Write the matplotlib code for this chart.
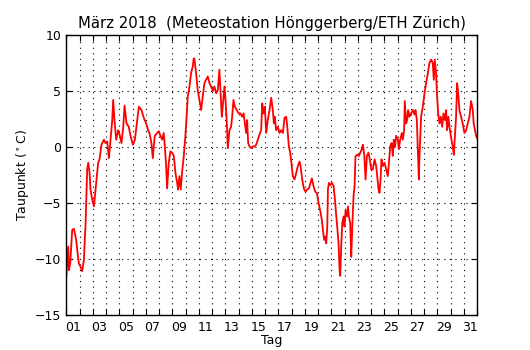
import matplotlib
matplotlib.use("Agg")
import matplotlib.pyplot as plt
from matplotlib.ticker import FixedLocator, NullFormatter, FixedFormatter

# time in days since 1 March 2018 00:00, dew point in deg C
t_days = [
    0.0, 0.15, 0.2, 0.3, 0.45, 0.58, 0.75, 0.83, 0.95, 1.08, 1.2, 1.33, 1.46, 1.58, 1.66, 1.76, 1.83, 1.96,
    2.09, 2.16, 2.26, 2.41, 2.51, 2.66, 2.84, 2.96, 3.09, 3.22, 3.34, 3.47, 3.54, 3.64, 3.77, 3.92,
    4.05, 4.17, 4.3, 4.4, 4.55, 4.72, 4.85, 5.03, 5.18, 5.3, 5.48, 5.68, 5.85, 6.03, 6.18, 6.28, 6.43,
    6.53, 6.68, 6.86, 6.98, 7.11, 7.24, 7.36, 7.44, 7.54, 7.61, 7.74, 7.86, 7.99, 8.12, 8.24, 8.37,
    8.44, 8.54, 8.64, 8.74, 8.87, 8.99, 9.07, 9.17, 9.3, 9.42, 9.55, 9.62, 9.67, 9.8, 9.92,
    10.05, 10.18, 10.3, 10.43, 10.55, 10.68, 10.81, 10.93, 11.06, 11.18, 11.31, 11.44, 11.56, 11.64,
    11.74, 11.81, 11.94, 12.02, 12.12, 12.19, 12.32, 12.44, 12.52, 12.62, 12.72, 12.87, 13.02, 13.15,
    13.27, 13.38, 13.48, 13.58, 13.65, 13.73, 13.83, 13.95, 14.08, 14.21, 14.33, 14.46, 14.58, 14.71,
    14.79, 14.89, 14.99, 15.09, 15.21, 15.34, 15.47, 15.59, 15.67, 15.74, 15.84, 15.97, 16.1, 16.22,
    16.35, 16.47, 16.6, 16.68, 16.8, 16.9, 16.98, 17.1, 17.23, 17.36, 17.48, 17.61, 17.68, 17.81,
    17.93, 18.06, 18.19, 18.31, 18.44, 18.54, 18.66, 18.79, 18.92, 19.04, 19.17, 19.29, 19.37, 19.47,
    19.57, 19.62, 19.7, 19.75, 19.82, 19.92, 20.05, 20.18, 20.3, 20.38, 20.45, 20.55, 20.63, 20.68,
    20.75, 20.83, 20.93, 21.0, 21.08, 21.18, 21.26, 21.33, 21.43, 21.51, 21.58, 21.68, 21.76, 21.83,
    21.96, 22.09, 22.19, 22.31, 22.39, 22.49, 22.59, 22.69, 22.81, 22.89, 23.02, 23.14, 23.27, 23.39,
    23.47, 23.57, 23.64, 23.72, 23.79, 23.89, 24.02, 24.15, 24.27, 24.35, 24.45, 24.55, 24.65, 24.72,
    24.82, 24.9, 25.03, 25.1, 25.2, 25.33, 25.4, 25.5, 25.55, 25.65, 25.73, 25.8, 25.9, 26.03, 26.16,
    26.28, 26.36, 26.46, 26.53, 26.61, 26.66, 26.78, 26.91, 27.04, 27.16, 27.29, 27.41, 27.54, 27.66,
    27.74, 27.81, 27.91, 27.99, 28.07, 28.17, 28.27, 28.37, 28.47, 28.57, 28.67, 28.74, 28.84, 28.92,
    28.99, 29.07, 29.17, 29.25, 29.32, 29.42, 29.5, 29.6, 29.67, 29.8, 29.92, 30.05, 30.18, 30.3,
    30.43, 30.55, 30.68, 30.75, 30.85, 30.93, 31.0,
]
dewpoint = [
    -11.7, -8.9, -11.0, -10.4, -7.4, -7.3, -8.3, -9.2, -10.4, -10.7, -11.1, -10.1, -6.8, -2.0, -1.4, -2.3, -3.8, -4.7,
    -5.3, -4.4, -3.2, -1.4, -1.1, 0.2, 0.65, 0.35, 0.5, -1.0, 0.65, 2.4, 4.2, 2.4, 0.65, 1.5,
    1.0, 0.35, 1.8, 3.7, 2.1, 1.8, 1.0, 0.2, 0.65, 1.8, 3.6, 3.3, 2.6, 2.1, 1.5, 1.25, 0.35,
    -1.0, 1.0, 1.25, 1.4, 1.0, 0.65, 1.25, 0.05, -1.7, -3.7, -1.4, -0.4, -0.5, -0.8, -2.3, -3.2,
    -3.8, -2.6, -3.8, -2.3, -0.8, 1.0, 2.4, 4.5, 5.4, 6.6, 7.2, 7.9, 7.9, 6.6, 5.1,
    4.2, 3.3, 4.5, 5.7, 6.0, 6.3, 5.7, 5.4, 5.0, 5.4, 4.8, 5.1, 6.9, 5.1,
    2.7, 3.6, 5.4, 4.2, 2.1, -0.1, 1.5, 1.8, 2.7, 4.2, 3.6, 3.3, 3.0, 3.0,
    2.7, 3.0, 2.1, 1.25, 2.4, 0.35, 0.05, -0.1, 0.05, 0.05, 0.2, 0.65, 1.1, 1.5,
    3.9, 3.0, 3.6, 1.25, 2.4, 3.3, 4.4, 3.3, 2.1, 2.7, 1.5, 1.8, 1.25, 1.5,
    1.25, 2.6, 2.7, 1.8, 0.05, -0.5, -1.3, -2.6, -2.9, -2.3, -1.7, -1.3, -1.7, -2.9,
    -3.7, -4.0, -3.8, -3.7, -3.2, -2.8, -3.5, -4.0, -4.1, -5.0, -5.7, -6.5, -7.4, -8.3,
    -8.0, -8.6, -7.1, -3.8, -3.2, -3.4, -3.2, -3.5, -5.0, -6.2, -7.1, -8.6, -11.0, -11.5,
    -8.9, -6.8, -6.2, -7.1, -5.7, -6.2, -5.3, -6.2, -6.8, -9.8, -7.4, -4.4, -3.5, -0.8,
    -0.7, -0.8, -0.5, -0.2, 0.2, -0.7, -2.9, -0.8, -0.5, -1.0, -2.0, -2.0, -1.1, -1.7,
    -2.6, -3.8, -4.1, -2.9, -1.1, -1.7, -1.4, -2.0, -2.6, -1.4, 0.05, 0.35, -0.8, 0.65,
    0.05, 1.0, 0.65, -0.2, 0.65, 1.25, 0.65, 1.5, 4.1, 2.1, 2.4, 3.3, 2.7, 3.0, 3.3,
    2.9, 3.3, 2.4, 0.05, -2.9, -0.8, 2.7, 3.6, 4.8, 5.7, 6.6, 7.5, 7.8, 7.5,
    6.0, 7.8, 6.6, 4.5, 3.0, 2.1, 2.7, 1.8, 3.0, 2.4, 3.3, 1.5, 2.7, 1.8,
    1.25, 0.65, 0.05, -0.7, 0.65, 2.7, 5.7, 4.5, 3.3, 2.7, 2.1, 1.25, 1.5, 2.1,
    2.7, 4.1, 3.3, 2.1, 1.5, 1.0, 0.8,
]
day_labels = ["01", "03", "05", "07", "09", "11", "13", "15", "17", "19", "21", "23", "25", "27", "29", "31"]
y_ticks = [-15, -10, -5, 0, 5, 10]

fig = plt.figure(figsize=(5.3, 3.5), dpi=100)
fig.patch.set_facecolor("white")
ax = fig.add_axes([0.125, 0.1, 0.775, 0.8])

x = [1 + v for v in t_days]
ax.plot(x, dewpoint, color="red", linewidth=1.3)

ax.set_xlim(1, 32)
ax.set_ylim(-15, 10)

major = list(range(1, 33))
label_pos = [int(d) + 0.5 for d in day_labels]
ax.xaxis.set_major_locator(FixedLocator(major))
ax.xaxis.set_major_formatter(NullFormatter())
ax.xaxis.set_minor_locator(FixedLocator(label_pos))
ax.xaxis.set_minor_formatter(FixedFormatter(day_labels))
ax.set_yticks(y_ticks)
ax.set_yticklabels([str(v).replace("-", "\u2212") for v in y_ticks])

ax.tick_params(which="major", direction="in", length=4, width=0.8, top=True, right=True,
               labelsize=9)
ax.tick_params(axis="x", which="minor", length=0, labelsize=9, pad=4)
ax.grid(True, which="major", color="black", linestyle=(0, (1, 4)), linewidth=0.8)
for s in ax.spines.values():
    s.set_linewidth(1.0)

ax.set_title("M\u00e4rz 2018  (Meteostation H\u00f6nggerberg/ETH Z\u00fcrich)", fontsize=10.7, pad=5)
ax.set_xlabel("Tag", fontsize=9, labelpad=0)
ax.set_ylabel(r"Taupunkt ($^\circ$C)", fontsize=9, labelpad=3)

fig.savefig("out.png", dpi=100, facecolor="white")
